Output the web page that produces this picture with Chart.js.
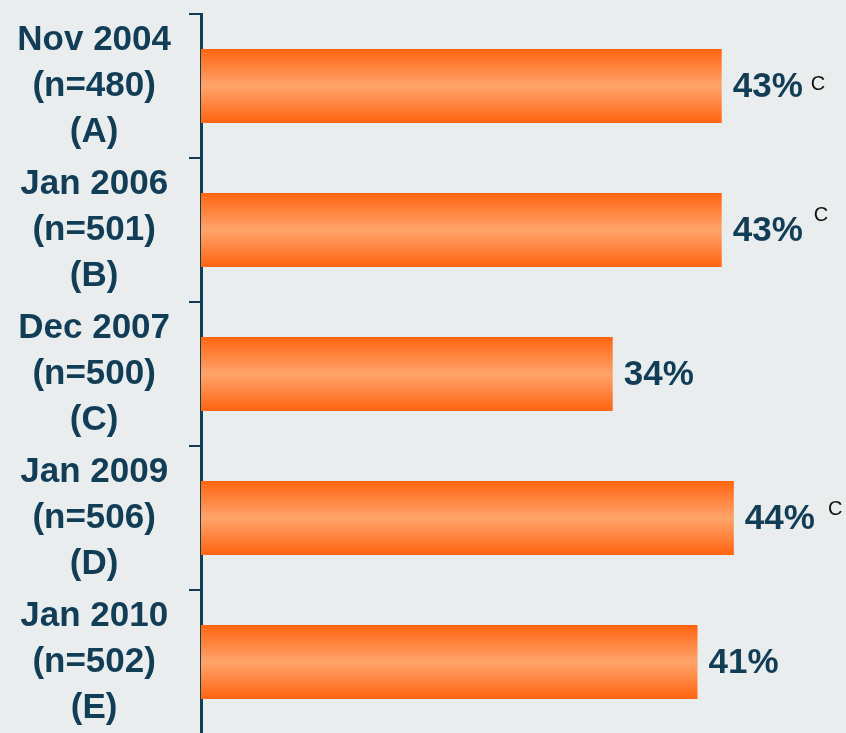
<!DOCTYPE html>
<html>
<head>
<meta charset="utf-8">
<script src="https://cdn.jsdelivr.net/npm/chart.js@4/dist/chart.umd.min.js"></script>
<style>
  html, body { margin: 0; padding: 0; background: #e9edee; overflow: hidden; }
  #wrap { width: 846px; height: 740px; }
</style>
</head>
<body>
<div id="wrap"><canvas id="myChart"></canvas></div>
<script>
let waves = [
  ['Nov 2004', '(n=480)', '(A)'],
  ['Jan 2006', '(n=501)', '(B)'],
  ['Dec 2007', '(n=500)', '(C)'],
  ['Jan 2009', '(n=506)', '(D)'],
  ['Jan 2010', '(n=502)', '(E)']
];
let percents = [43, 43, 34, 44, 41];
let sigNotes = ['C', 'C', '', 'C', ''];

let navy = '#123d57';
let noteShift = [-1, -14, 0, -8, 0];
let noteGap = [8, 11, 0, 13, 0];

let ctx = document.getElementById('myChart').getContext('2d');

// each bar gets its own vertical gradient (orange edges, light centre)
let barStyle = {
  id: 'barStyle',
  beforeDatasetsDraw(chart) {
    let c = chart.ctx;
    chart.getDatasetMeta(0).data.forEach(bar => {
      let top = bar.y - bar.height / 2;
      let g = c.createLinearGradient(0, top, 0, top + bar.height);
      g.addColorStop(0, '#ff6410');
      g.addColorStop(0.5, '#ffa46b');
      g.addColorStop(1, '#ff6410');
      bar.options.backgroundColor = g;
    });
  },
  afterDatasetsDraw(chart) {
    let c = chart.ctx;
    c.save();
    chart.getDatasetMeta(0).data.forEach((bar, i) => {
      let txt = percents[i] + '%';
      c.font = 'bold 35px "Liberation Sans", Arial, sans-serif';
      c.fillStyle = navy;
      c.textAlign = 'left';
      c.textBaseline = 'middle';
      c.fillText(txt, bar.x + 11, bar.y + 1);
      if (sigNotes[i]) {
        let w = c.measureText(txt).width;
        c.font = '20px "Liberation Sans", Arial, sans-serif';
        c.fillStyle = '#111';
        c.textBaseline = 'alphabetic';
        c.fillText(sigNotes[i], bar.x + 11 + w + noteGap[i], bar.y + 5 + noteShift[i]);
      }
    });
    c.restore();
  }
};

let myChart = new Chart(ctx, {
  type: 'bar',
  data: {
    labels: waves,
    datasets: [{
      data: percents,
      // scriptable so every bar keeps its own options object
      backgroundColor: (context) => '#ff8a44',
      borderWidth: 0,
      categoryPercentage: 1,
      barPercentage: 0.514
    }]
  },
  options: {
    indexAxis: 'y',
    responsive: true,
    maintainAspectRatio: false,
    animation: false,
    layout: {
      padding: { top: 14, right: 39.5, bottom: 6, left: 0 }
    },
    plugins: {
      legend: { display: false },
      tooltip: { enabled: false }
    },
    scales: {
      x: {
        display: false,
        min: 0,
        max: 50
      },
      y: {
        grid: {
          display: true,
          drawOnChartArea: false,
          drawTicks: true,
          tickLength: 12,
          color: navy,
          lineWidth: 2
        },
        border: {
          display: true,
          color: navy,
          width: 3
        },
        ticks: {
          crossAlign: 'center',
          padding: 18,
          color: navy,
          font: {
            family: '"Liberation Sans", Arial, sans-serif',
            size: 35,
            weight: 'bold',
            lineHeight: 1.314
          }
        },
        afterFit(scale) {
          scale.width = 201;
          scale.paddingTop = 0;
          scale.paddingBottom = 0;
        }
      }
    }
  },
  plugins: [barStyle]
});
</script>
</body>
</html>
